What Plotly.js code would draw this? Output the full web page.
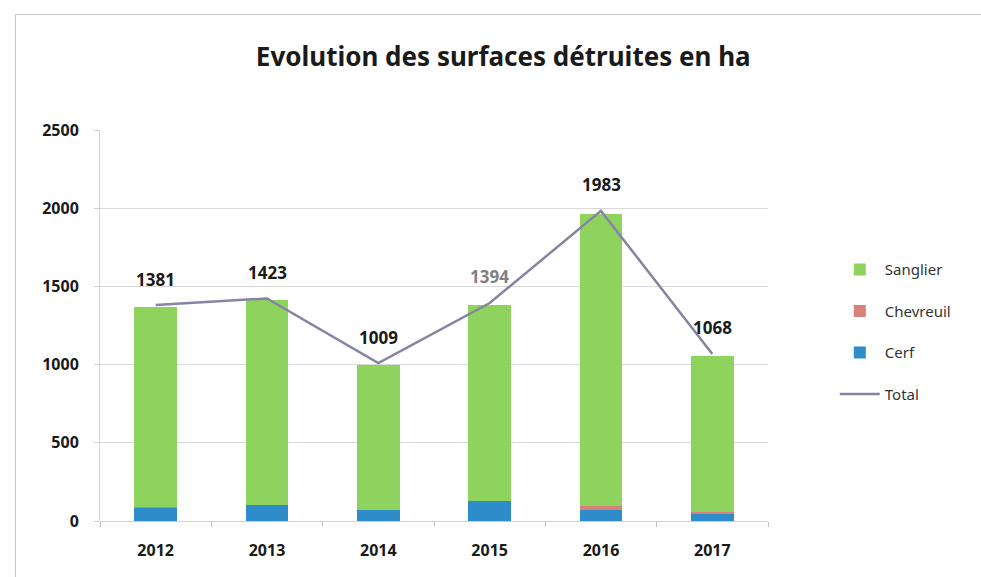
<!DOCTYPE html>
<html>
<head>
<meta charset="utf-8">
<script src="https://cdn.plot.ly/plotly-3.0.1.min.js"></script>
<style>
html,body{margin:0;padding:0;background:#fff;}
#chart{width:981px;height:577px;position:absolute;left:0;top:0;}
#frame{position:absolute;left:15px;top:14px;width:980px;height:580px;border-left:1.5px solid #c8c8c8;border-top:1.5px solid #c8c8c8;pointer-events:none;}
</style>
</head>
<body>
<div id="chart"></div>
<div id="frame"></div>
<script>
const years = ['2012','2013','2014','2015','2016','2017'];
const cerf = [85, 100, 68, 125, 68, 42];
const chevreuil = [5, 5, 4, 5, 26, 13];
const sanglier = [1280, 1305, 925, 1250, 1870, 1000];
const total = [1381, 1423, 1009, 1394, 1983, 1068];
const totalLabelColors = ['#1a1a1a','#1a1a1a','#1a1a1a','#808080','#1a1a1a','#1a1a1a'];

const FONT = 'Noto Sans, DejaVu Sans, sans-serif';

const traces = [
  {type:'bar', name:'Cerf', x:years, y:cerf, marker:{color:'#2f8ccb'}, legendrank:3, legendgroup:'c'},
  {type:'bar', name:'Chevreuil', x:years, y:chevreuil, marker:{color:'#d8817b'}, legendrank:2, legendgroup:'b'},
  {type:'bar', name:'Sanglier', x:years, y:sanglier, marker:{color:'#8fd35f'}, legendrank:1, legendgroup:'a'},
  {type:'scatter', mode:'lines', name:'Total', x:years, y:total, line:{color:'#8585a3', width:2.5}, legendrank:4, legendgroup:'d'}
];

// category axis: annotations use category index
const annotations = years.map((yr, i) => ({
  x: i, y: total[i], xref:'x', yref:'y', text: String(total[i]),
  showarrow:false, yshift:26,
  font:{family:FONT, size:17, color: totalLabelColors[i], weight:'bold'}
}));

const layout = {
  width:981, height:577,
  margin:{l:100, r:213, t:130, b:56},
  paper_bgcolor:'#fff', plot_bgcolor:'#fff',
  barmode:'stack', bargap:0.615,
  title:{text:'Evolution des surfaces détruites en ha', xref:'container', x:0.513, xanchor:'center', yref:'container', y:0.901, yanchor:'middle',
    font:{family:FONT, size:26, color:'#1a1a1a', weight:'bold'}},
  xaxis:{type:'category', showgrid:false, zeroline:false, showline:false,
    ticks:'outside', tickson:'boundaries', ticklen:5, tickcolor:'#bfbfbf',
    ticklabelstandoff:18,
    tickfont:{family:FONT, size:16, color:'#1a1a1a', weight:'bold'}},
  yaxis:{range:[0,2500], dtick:500, showgrid:true, gridcolor:'#d9d9d9', gridwidth:1,
    zeroline:true, zerolinecolor:'#d0d0d0', zerolinewidth:1,
    showline:true, linecolor:'#d0d0d0', linewidth:1,
    ticks:'outside', ticklen:5, tickcolor:'#d0d0d0', ticklabelstandoff:12,
    tickfont:{family:FONT, size:16, color:'#1a1a1a', weight:'bold'}},
  legend:{x:1.1, xanchor:'left', y:0.685, yanchor:'top', traceorder:'grouped', tracegroupgap:19,
    font:{family:FONT, size:15, color:'#333'}, itemwidth:40, bgcolor:'rgba(0,0,0,0)'},
  annotations: annotations,
  showlegend:true
};

Plotly.newPlot('chart', traces, layout, {displayModeBar:false, staticPlot:true});
</script>
</body>
</html>
